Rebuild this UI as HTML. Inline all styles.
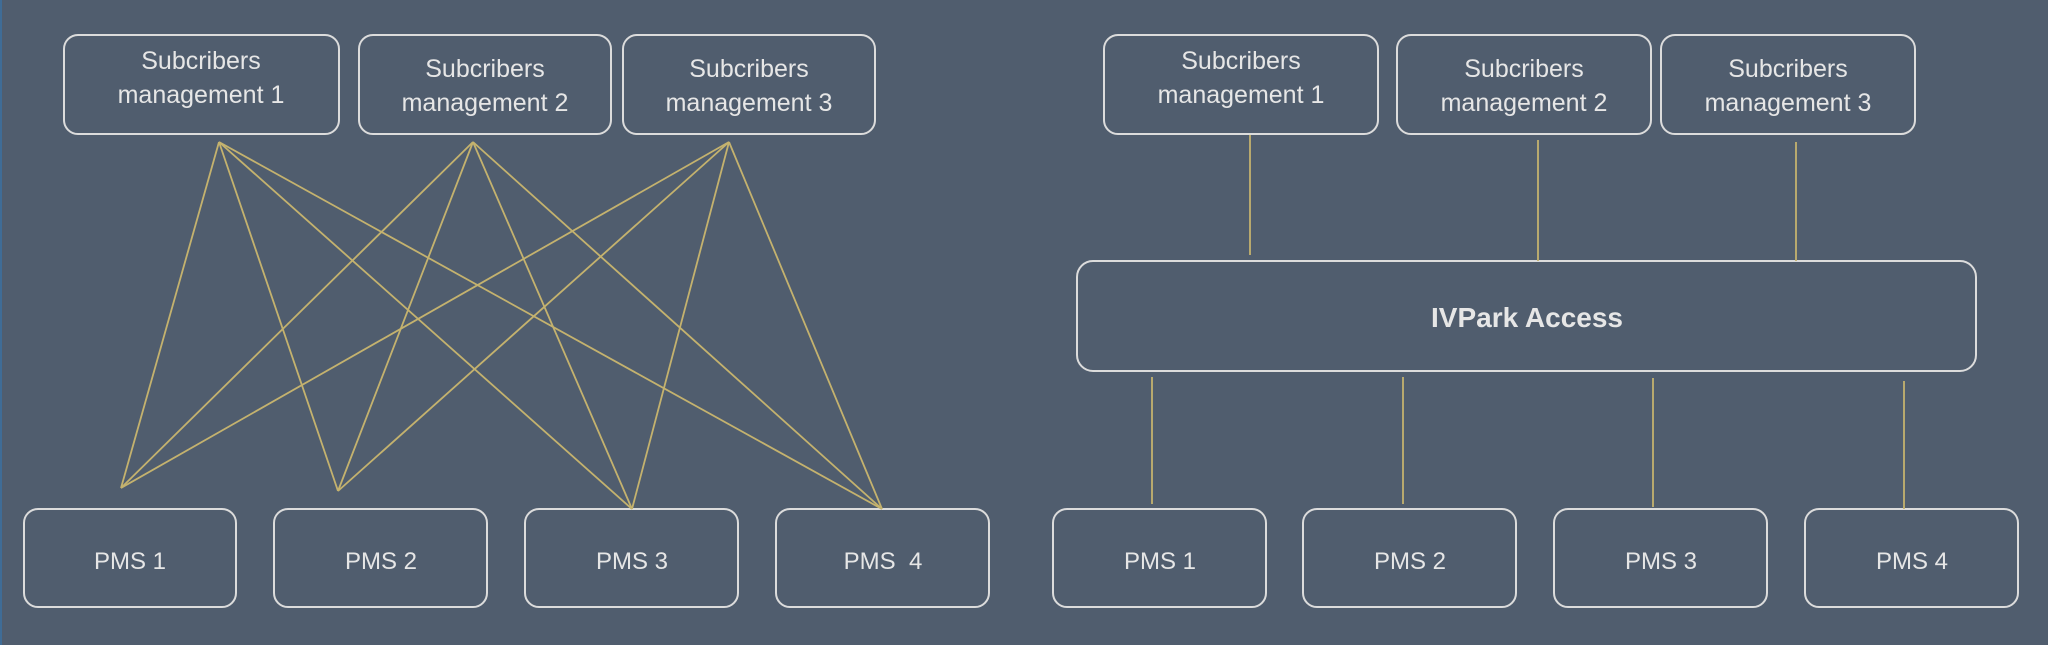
<!DOCTYPE html>
<html><head><meta charset="utf-8"><style>
html,body{margin:0;padding:0;background:#505d6e;}
svg{display:block}
text{font-family:"Liberation Sans",sans-serif;fill:#e6e6e6;text-anchor:middle}
</style></head><body>
<svg width="2048" height="645" viewBox="0 0 2048 645" xmlns="http://www.w3.org/2000/svg">
<rect x="0" y="0" width="2048" height="645" fill="#505d6e"/>
<rect x="0" y="0" width="2" height="645" fill="#3f6c96"/>
<g fill="none" stroke="#dcdcdc" stroke-width="2">
<rect x="64" y="35" width="275" height="99" rx="14"/>
<rect x="359" y="35" width="252" height="99" rx="14"/>
<rect x="623" y="35" width="252" height="99" rx="14"/>
<rect x="24" y="509" width="212" height="98" rx="14"/>
<rect x="274" y="509" width="213" height="98" rx="14"/>
<rect x="525" y="509" width="213" height="98" rx="14"/>
<rect x="776" y="509" width="213" height="98" rx="14"/>
<rect x="1104" y="35" width="274" height="99" rx="14"/>
<rect x="1397" y="35" width="254" height="99" rx="14"/>
<rect x="1661" y="35" width="254" height="99" rx="14"/>
<rect x="1077" y="261" width="899" height="110" rx="16"/>
<rect x="1053" y="509" width="213" height="98" rx="14"/>
<rect x="1303" y="509" width="213" height="98" rx="14"/>
<rect x="1554" y="509" width="213" height="98" rx="14"/>
<rect x="1805" y="509" width="213" height="98" rx="14"/>
</g>
<g stroke="#c4b26e" stroke-width="1.8">
<line x1="219" y1="142" x2="121" y2="488"/><line x1="219" y1="142" x2="338" y2="491"/><line x1="219" y1="142" x2="632" y2="509"/><line x1="219" y1="142" x2="882" y2="509"/>
<line x1="473" y1="142" x2="121" y2="488"/><line x1="473" y1="142" x2="338" y2="491"/><line x1="473" y1="142" x2="632" y2="509"/><line x1="473" y1="142" x2="882" y2="509"/>
<line x1="729" y1="142" x2="121" y2="488"/><line x1="729" y1="142" x2="338" y2="491"/><line x1="729" y1="142" x2="632" y2="509"/><line x1="729" y1="142" x2="882" y2="509"/>
<line x1="1250" y1="135" x2="1250" y2="255"/><line x1="1538" y1="140" x2="1538" y2="261"/><line x1="1796" y1="142" x2="1796" y2="261"/>
<line x1="1152" y1="377" x2="1152" y2="504"/><line x1="1403" y1="377" x2="1403" y2="504"/><line x1="1653" y1="378" x2="1653" y2="507"/><line x1="1904" y1="381" x2="1904" y2="509"/>
</g>
<g font-size="25">
<text x="201" y="69">Subcribers</text><text x="201" y="103">management 1</text>
<text x="485" y="77">Subcribers</text><text x="485" y="111">management 2</text>
<text x="749" y="77">Subcribers</text><text x="749" y="111">management 3</text>
<text x="1241" y="69">Subcribers</text><text x="1241" y="103">management 1</text>
<text x="1524" y="77">Subcribers</text><text x="1524" y="111">management 2</text>
<text x="1788" y="77">Subcribers</text><text x="1788" y="111">management 3</text>
</g>
<g font-size="24">
<text x="130" y="569">PMS 1</text><text x="381" y="569">PMS 2</text><text x="632" y="569">PMS 3</text><text x="883" y="569" xml:space="preserve">PMS  4</text>
<text x="1160" y="569">PMS 1</text><text x="1410" y="569">PMS 2</text><text x="1661" y="569">PMS 3</text><text x="1912" y="569">PMS 4</text>
</g>
<text x="1527" y="327" font-size="28" font-weight="bold">IVPark Access</text>
</svg>
</body></html>
